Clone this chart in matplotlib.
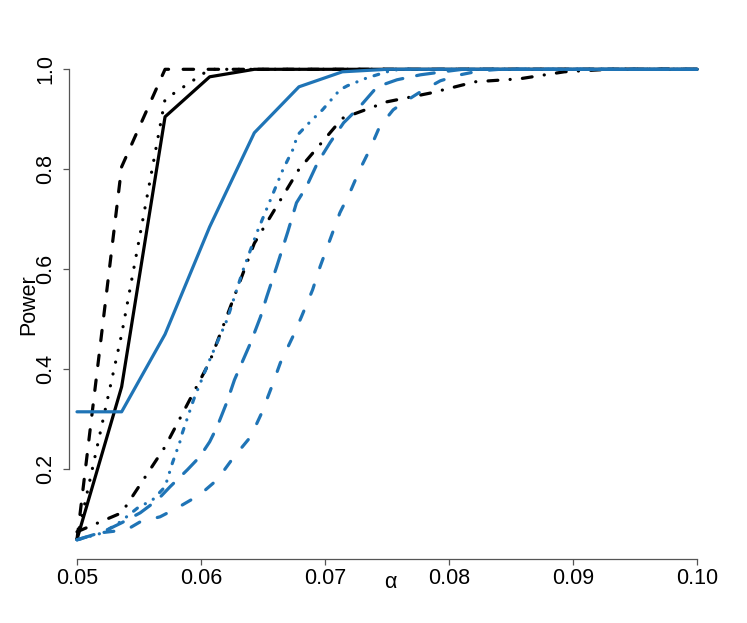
import matplotlib
matplotlib.use('Agg')
import matplotlib.pyplot as plt

# alpha grid used by the black curves and the solid blue one
alpha = [0.05, 0.0536, 0.0571, 0.0607, 0.0643, 0.0679, 0.0714, 0.075,
         0.0786, 0.0821, 0.0857, 0.0893, 0.0929, 0.0964, 0.10]

black_solid = [0.06, 0.365, 0.905, 0.985, 1, 1, 1, 1, 1, 1, 1, 1, 1, 1, 1]
black_dashed = [0.06, 0.805, 1, 1, 1, 1, 1, 1, 1, 1, 1, 1, 1, 1, 1]
black_dotted = [0.06, 0.47, 0.94, 1, 1, 1, 1, 1, 1, 1, 1, 1, 1, 1, 1]
black_dotdash = [0.075, 0.113, 0.245, 0.415, 0.652, 0.80, 0.902, 0.935,
                 0.953, 0.975, 0.981, 0.995, 1, 1, 1]
blue_solid = [0.315, 0.315, 0.47, 0.685, 0.873, 0.965, 0.995, 1, 1, 1, 1, 1, 1, 1, 1]

# blue curves (finer alpha)
bdd_x = [0.05, 0.0521, 0.0535, 0.0549, 0.0561, 0.0571, 0.0577, 0.0583, 0.0585,
         0.0594, 0.0607, 0.0621, 0.0634, 0.0645, 0.0656, 0.0666, 0.0674, 0.0678,
         0.0688, 0.0698, 0.0712, 0.0718, 0.0734, 0.075, 0.076, 0.10]
bdd_y = [0.059, 0.073, 0.095, 0.123, 0.139, 0.165, 0.213, 0.255, 0.273,
         0.339, 0.419, 0.499, 0.599, 0.673, 0.739, 0.799, 0.839, 0.869,
         0.895, 0.919, 0.959, 0.967, 0.983, 0.995, 1.0, 1.0]

blong_x = [0.05, 0.0521, 0.0536, 0.0551, 0.0565, 0.0575, 0.0589, 0.0599, 0.0607,
           0.0613, 0.0621, 0.0627, 0.064, 0.0648, 0.0653, 0.0661, 0.067, 0.0677,
           0.0685, 0.0694, 0.0704, 0.0715, 0.0728, 0.0742, 0.0758, 0.0777,
           0.0795, 0.0811, 0.10]
blong_y = [0.059, 0.075, 0.093, 0.113, 0.139, 0.165, 0.199, 0.225, 0.255,
           0.285, 0.335, 0.379, 0.453, 0.505, 0.545, 0.605, 0.675, 0.733,
           0.765, 0.813, 0.853, 0.893, 0.925, 0.965, 0.979, 0.989,
           0.995, 1.0, 1.0]

bshort_x = [0.05, 0.0519, 0.054, 0.0551, 0.0567, 0.0581, 0.0599, 0.0613, 0.0626,
            0.064, 0.0649, 0.0657, 0.0664, 0.0674, 0.0681, 0.069, 0.0696, 0.0704,
            0.0712, 0.072, 0.0728, 0.0736, 0.0744, 0.0755, 0.0763, 0.0777,
            0.0793, 0.0809, 0.0825, 0.0841, 0.10]
bshort_y = [0.059, 0.073, 0.079, 0.095, 0.105, 0.123, 0.149, 0.179, 0.223,
            0.265, 0.313, 0.365, 0.413, 0.465, 0.505, 0.559, 0.605, 0.659,
            0.713, 0.753, 0.799, 0.839, 0.885, 0.919, 0.933, 0.955,
            0.977, 0.989, 0.997, 1.0, 1.0]

xticks = [0.05, 0.06, 0.07, 0.08, 0.09, 0.10]
yticks = [0.2, 0.4, 0.6, 0.8, 1.0]

plt.rcParams['font.family'] = ['Liberation Sans', 'DejaVu Sans']
plt.rcParams['lines.scale_dashes'] = False

blue = '#1f74b6'
lw = 2.3

fig = plt.figure(figsize=(7.47, 6.23), dpi=100)
W, H = 747, 623
# axes box in pixels: left 69, right 720, top 40, bottom 559
ax = fig.add_axes([69 / W, (H - 559) / H, (720 - 69) / W, (559 - 40) / H])
ax.set_xlim(0.05 - 8 / 12400, 0.05 + 643 / 12400)
ax.set_ylim((569.3 - 559) / 500, (569.3 - 40) / 500)

kw = dict(lw=lw, solid_capstyle='round', dash_capstyle='round')
ax.plot(alpha, black_solid, color='black', **kw)
ax.plot(alpha, black_dashed, color='black', dashes=(7.5, 10.5), **kw)
ax.plot(alpha, black_dotted, color='black', dashes=(0.1, 8.6), **kw)
ax.plot(alpha, black_dotdash, color='black', dashes=(7.1, 8.8, 0.1, 8.8), **kw)
ax.plot(alpha, blue_solid, color=blue, **kw)
ax.plot(bdd_x, bdd_y, color=blue, dashes=(3.5, 6.5, 0.1, 6.5, 0.1, 6.5), **kw)
ax.plot(blong_x, blong_y, color=blue, dashes=(12.8, 10.2), **kw)
ax.plot(bshort_x, bshort_y, color=blue, dashes=(7.1, 13.1), **kw)

for s in ['top', 'right']:
    ax.spines[s].set_visible(False)
ax.spines['left'].set_bounds(0.2, 1.0)
ax.spines['bottom'].set_bounds(0.05, 0.10)
for s in ['left', 'bottom']:
    ax.spines[s].set_color('#555555')
    ax.spines[s].set_linewidth(0.9)

ax.set_xticks(xticks)
ax.set_xticklabels(['0.05', '0.06', '0.07', '0.08', '0.09', '0.10'])
ax.set_yticks(yticks)
ax.set_yticklabels(['0.2', '0.4', '0.6', '0.8', '1.0'], rotation=90, va='center')
ax.tick_params(axis='both', direction='out', length=4.3, width=0.9,
               color='#555555', labelsize=15.5)
ax.tick_params(axis='x', pad=2.0)
ax.tick_params(axis='y', pad=5.0)

fig.text(29 / W, 1 - 305 / H, 'Power', rotation=90, ha='center', va='center', fontsize=15.5)
fig.text(390 / W, 1 - 582 / H, 'α', ha='center', va='center', fontsize=15.5)

fig.savefig('out.png', dpi=100)
